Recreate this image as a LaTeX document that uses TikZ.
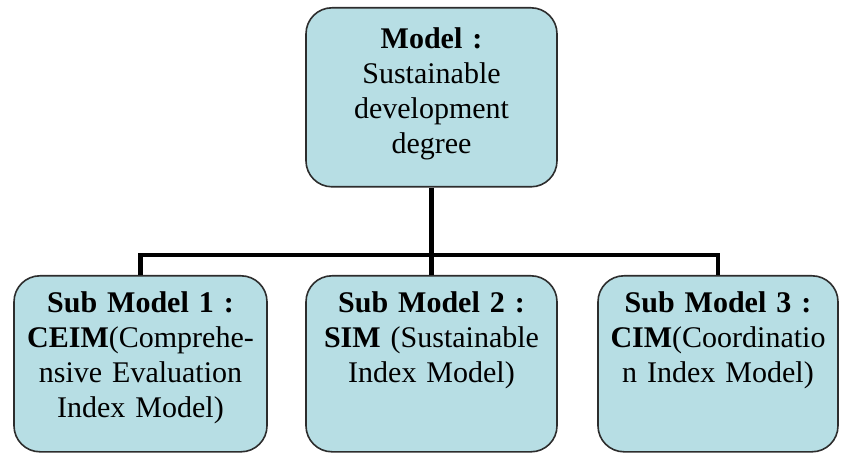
\documentclass[tikz,border=0pt]{standalone}
\usepackage{fontspec}
\setmainfont{Liberation Serif}
\usepackage{tikz}
\usetikzlibrary{positioning}
\definecolor{ModelTeal}{RGB}{183, 222, 228}
\definecolor{ModelEdge}{RGB}{45, 45, 45}

\begin{document}
\begin{tikzpicture}[
    modelbox/.style={rectangle, rounded corners=13pt, draw=ModelEdge, line width=0.8pt, fill=ModelTeal, inner xsep=4pt, inner ysep=0pt, align=center, font=\fontsize{15}{17.4}\selectfont, anchor=north},
    link/.style={line width=2.2pt, color=black}
  ]
    \useasboundingbox (0,0) rectangle (420.5pt,-227pt);

    \node[modelbox, text width=117.5pt, text height=20.5pt, text depth=69pt] (main) at (215.75pt,-3.5pt) {\textbf{Model :}\\Sustainable\\development\\degree};

    \node[modelbox, text width=118.5pt, text height=18.5pt, text depth=69.5pt] (sub1) at (70.25pt,-137.5pt) {\textbf{Sub Model 1 :}\\\textbf{CEIM}(Comprehe-\\nsive Evaluation\\Index Model)};
    \node[modelbox, text width=117.5pt, text height=18.5pt, text depth=69.5pt] (sub2) at (215.75pt,-137.5pt) {\textbf{Sub Model 2 :}\\\textbf{SIM} (Sustainable\\Index Model)};
    \node[modelbox, text width=112pt, text height=18.5pt, text depth=69.5pt] (sub3) at (359pt,-137.5pt) {\textbf{Sub Model 3 :}\\\textbf{CIM}(Coordinatio\\n Index Model)};

    \coordinate (bus) at (215.75pt,-127.5pt);

    \draw[link] (main.south) -- (bus);
    \draw[link] (sub1.north) -- (sub1.north |- bus) -- (sub3.north |- bus) -- (sub3.north);
    \draw[link] (bus) -- (sub2.north);
  \end{tikzpicture}
\end{document}
